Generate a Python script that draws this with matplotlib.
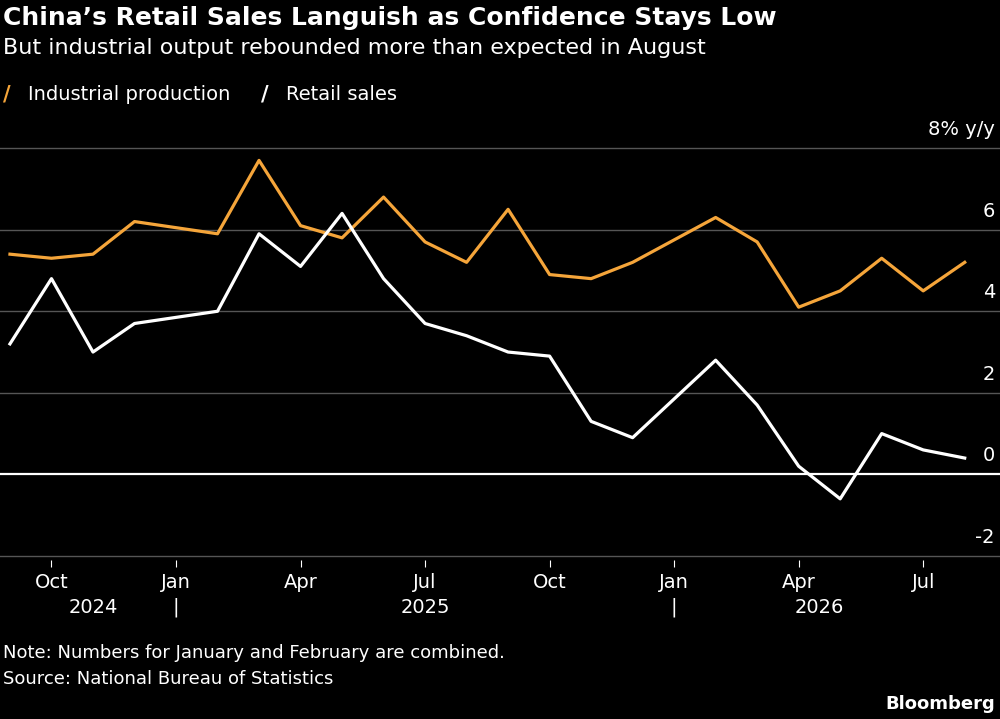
import numpy as np
import matplotlib
matplotlib.use("Agg")
import matplotlib.pyplot as plt

# months since Sep 2024 (January is combined with February, so skipped)
months = [0, 1, 2, 3, 5, 6, 7, 8, 9, 10, 11, 12, 13, 14, 15, 17, 18, 19, 20, 21, 22, 23]
industrial = [5.4, 5.3, 5.4, 6.2, 5.9, 7.7, 6.1, 5.8, 6.8, 5.7, 5.2, 6.5, 4.9, 4.8, 5.2,
              6.3, 5.7, 4.1, 4.5, 5.3, 4.5, 5.2]
retail = [3.2, 4.8, 3.0, 3.7, 4.0, 5.9, 5.1, 6.4, 4.8, 3.7, 3.4, 3.0, 2.9, 1.3, 0.9,
          2.8, 1.7, 0.2, -0.6, 1.0, 0.6, 0.4]
tick_pos = [1, 4, 7, 10, 13, 16, 19, 22]
tick_labels = ["Oct", "Jan", "Apr", "Jul", "Oct", "Jan", "Apr", "Jul"]
y_ticks = [-2, 0, 2, 4, 6, 8]

orange = "#f5a53a"
fig = plt.figure(figsize=(10, 7.19), dpi=100, facecolor="black")
ax = fig.add_axes([0, 1 - 560 / 719, 1, 420 / 719], facecolor="black")
ax.set_xlim(-0.24, 23.85)
ax.set_ylim(-2.1, 8.2)

for v in y_ticks:
    ax.axhline(v, color="white" if v == 0 else "#555555", lw=1.6 if v == 0 else 1, zorder=1)
    ax.text(0.995, v + 0.22, "8% y/y" if v == 8 else str(v), transform=ax.get_yaxis_transform(),
            ha="right", va="bottom", color="white", fontsize=14)

ax.plot(months, industrial, color=orange, lw=2.3, zorder=3)
ax.plot(months, retail, color="white", lw=2.3, zorder=3)

for s in ax.spines.values():
    s.set_visible(False)
ax.set_yticks([])
ax.set_xticks(tick_pos)
ax.set_xticklabels(tick_labels, color="white", fontsize=14)
ax.tick_params(axis="x", colors="white", length=5, pad=4, labelcolor="white")

trans = ax.get_xaxis_transform()
for x, yr in [(2, "2024"), (10, "2025"), (19.5, "2026")]:
    ax.text(x, -0.09, yr, transform=trans, ha="center", va="top", color="white", fontsize=14)
for x in [4, 16]:
    ax.text(x, -0.09, "|", transform=trans, ha="center", va="top", color="white", fontsize=14)

fig.text(0.003, 0.975, "China’s Retail Sales Languish as Confidence Stays Low", color="white",
         fontsize=18, fontweight="bold", va="center")
fig.text(0.003, 0.933, "But industrial output rebounded more than expected in August", color="white",
         fontsize=16, va="center")
fig.text(0.003, 0.869, "/", color=orange, fontsize=15, fontweight="bold", va="center")
fig.text(0.028, 0.869, "Industrial production", color="white", fontsize=14, va="center")
fig.text(0.261, 0.869, "/", color="white", fontsize=15, fontweight="bold", va="center")
fig.text(0.286, 0.869, "Retail sales", color="white", fontsize=14, va="center")
fig.text(0.003, 0.092, "Note: Numbers for January and February are combined.", color="white",
         fontsize=13, va="center")
fig.text(0.003, 0.056, "Source: National Bureau of Statistics", color="white", fontsize=13, va="center")
fig.text(0.995, 0.021, "Bloomberg", color="white", fontsize=13, fontweight="bold", ha="right", va="center")

fig.savefig("out.png", dpi=100, facecolor="black")
